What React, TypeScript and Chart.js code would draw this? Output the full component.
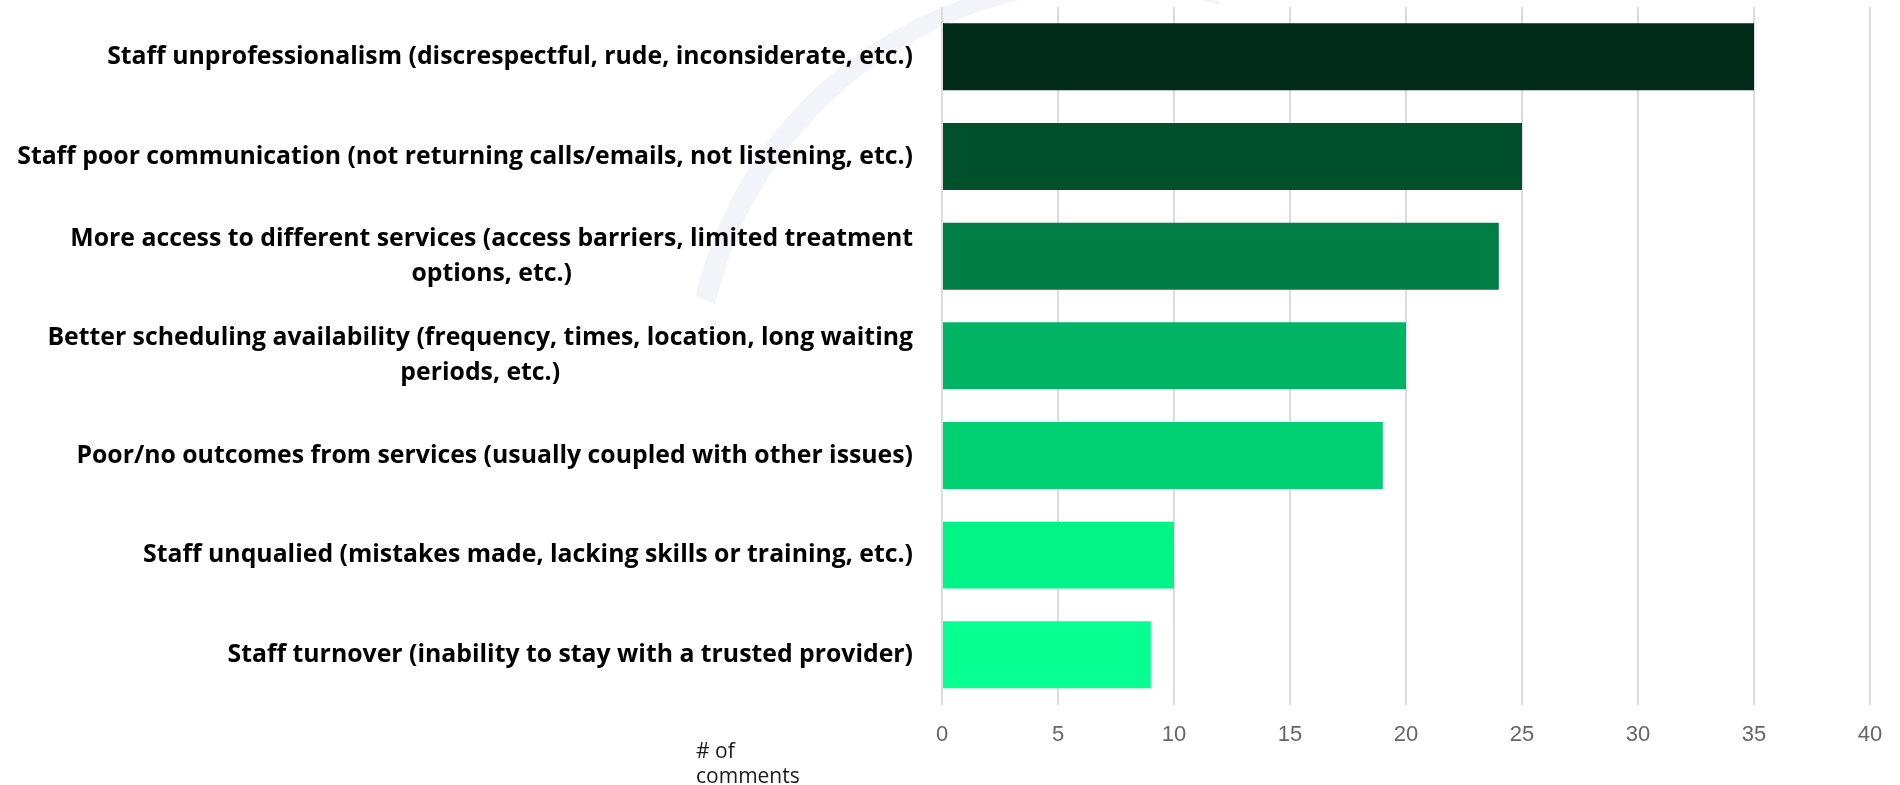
import React, { useEffect, useRef } from "react";
import { Chart, registerables } from "chart.js";

Chart.register(...registerables);

const categories: (string | string[])[] = [
  "Staff unprofessionalism (discrespectful, rude, inconsiderate, etc.)",
  "Staff poor communication (not returning calls/emails, not listening, etc.)",
  ["More access to different services (access barriers, limited treatment", "options, etc.)"],
  ["Better scheduling availability (frequency, times, location, long waiting", "periods, etc.)"],
  "Poor/no outcomes from services (usually coupled with other issues)",
  "Staff unqualied (mistakes made, lacking skills or training, etc.)",
  "Staff turnover (inability to stay with a trusted provider)",
];

const commentCounts: number[] = [35, 25, 24, 20, 19, 10, 9];

const barColors: string[] = [
  "#012a18",
  "#00502c",
  "#007e46",
  "#00b464",
  "#00cf72",
  "#00f586",
  "#08ff92",
];

const axisTitleLines: string[] = ["# of", "comments"];

const X_MIN = 0;
const X_MAX = 40;
const X_STEP = 5;

const LABEL_FONT = 'bold 24.8px "Open Sans"';
const LABEL_LINE = 35;

const watermarkPlugin = {
  id: "watermark",
  beforeDraw(chart: any) {
    const ctx = chart.ctx;
    ctx.save();
    // faint crescent-shaped arc of the background logo
    ctx.fillStyle = "rgba(236,238,246,0.6)";
    ctx.beginPath();
    ctx.arc(1097, 389, 412, (-74 * Math.PI) / 180, (-167 * Math.PI) / 180, true);
    ctx.arc(1110, 395, 405, (-167 * Math.PI) / 180, (-74 * Math.PI) / 180, false);
    ctx.closePath();
    ctx.fill();
    ctx.restore();
  },
};

const yLabelPlugin = {
  id: "yLabels",
  afterDraw(chart: any) {
    const ctx = chart.ctx;
    const yScale = chart.scales.y;
    const right = chart.chartArea.left - 29;
    ctx.save();
    ctx.font = LABEL_FONT;
    ctx.fillStyle = "#000000";
    ctx.textAlign = "center";
    ctx.textBaseline = "middle";
    yScale.ticks.forEach((_t: any, i: number) => {
      const raw = categories[i];
      const lines = Array.isArray(raw) ? raw : [raw];
      const blockW = Math.max(...lines.map((l) => ctx.measureText(l).width));
      const cy = yScale.getPixelForTick(i);
      const startY = cy - ((lines.length - 1) * LABEL_LINE) / 2;
      lines.forEach((line, k) => {
        ctx.fillText(line, right - blockW / 2, startY + k * LABEL_LINE);
      });
    });
    // axis title "# of comments"
    ctx.font = '21px "Open Sans"';
    ctx.fillStyle = "#1a1a1a";
    ctx.textAlign = "left";
    ctx.textBaseline = "alphabetic";
    const tx = chart.chartArea.left - 246;
    const ty = chart.chartArea.bottom + 53;
    axisTitleLines.forEach((line, k) => {
      ctx.fillText(line, tx, ty + k * 25);
    });
    ctx.restore();
  },
};

export default function App() {
  const canvasRef = useRef<HTMLCanvasElement | null>(null);

  useEffect(() => {
    if (!canvasRef.current) return;
    const chart = new Chart(canvasRef.current, {
      type: "bar",
      data: {
        labels: categories as any,
        datasets: [
          {
            data: commentCounts,
            backgroundColor: barColors,
            borderWidth: 0,
            categoryPercentage: 1,
            barPercentage: 0.672,
          },
        ],
      },
      options: {
        indexAxis: "y",
        animation: false,
        responsive: true,
        maintainAspectRatio: false,
        layout: { padding: { left: 0, right: 30, top: 7, bottom: 20 } },
        plugins: {
          legend: { display: false },
          tooltip: { enabled: false },
        },
        scales: {
          x: {
            type: "linear",
            min: X_MIN,
            max: X_MAX,
            ticks: {
              stepSize: X_STEP,
              color: "#666666",
              font: { family: '"Liberation Sans", Arial, sans-serif', size: 22 },
              padding: 17,
            },
            grid: {
              color: "#dcdcdc",
              lineWidth: 2,
              drawTicks: false,
            },
            border: { display: false },
          },
          y: {
            type: "category",
            ticks: { display: false },
            grid: { display: false },
            border: { display: false },
            afterFit(scale: any) {
              scale.width = 942;
            },
          },
        },
      },
      plugins: [watermarkPlugin, yLabelPlugin],
    });
    return () => chart.destroy();
  }, []);

  return (
    <div style={{ position: "absolute", left: 0, top: 0, width: 1900, height: 785 }}>
      <canvas ref={canvasRef} />
    </div>
  );
}
